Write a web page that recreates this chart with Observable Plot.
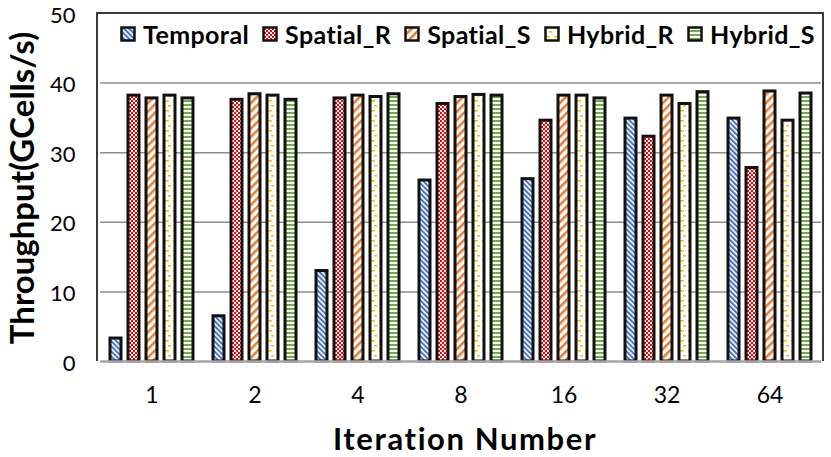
<!DOCTYPE html>
<html>
<head>
<meta charset="utf-8">
<script src="https://cdn.jsdelivr.net/npm/d3@7"></script>
<script src="https://cdn.jsdelivr.net/npm/@observablehq/plot@0.6"></script>
<style>
  html, body { margin: 0; padding: 0; background: #fff; }
  #wrap { position: relative; width: 831px; height: 457px; font-family: Lato, "Open Sans", sans-serif; }
  #legend { position: absolute; left: 120px; top: 19px; display: flex; align-items: center; font-weight: 700; font-size: 25px; letter-spacing: 0.4px; color: #000; }
  #legend .item { display: flex; align-items: center; margin-right: 13px; }
  #legend svg { margin-right: 7px; }
  #ytitle { position: absolute; left: -159px; top: 171px; width: 360px; text-align: center; font-weight: 700; font-size: 33px; line-height: 34px; transform: rotate(-90deg); transform-origin: center; white-space: nowrap; }
  #xtitle { position: absolute; left: 265px; top: 422px; width: 400px; text-align: center; font-weight: 700; font-size: 31px; letter-spacing: 1.6px; line-height: 32px; white-space: nowrap; }
</style>
</head>
<body>
<div id="wrap"></div>
<script>
const iterations = ["1", "2", "4", "8", "16", "32", "64"];
const seriesNames = ["Temporal", "Spatial_R", "Spatial_S", "Hybrid_R", "Hybrid_S"];
const temporal  = [3.3, 6.5, 13.0, 26.0, 26.2, 34.9, 34.9];
const spatialR  = [38.2, 37.6, 37.8, 37.0, 34.6, 32.3, 27.8];
const spatialS  = [37.8, 38.4, 38.2, 38.0, 38.2, 38.2, 38.8];
const hybridR   = [38.2, 38.2, 38.0, 38.3, 38.2, 37.0, 34.6];
const hybridS   = [37.8, 37.6, 38.4, 38.2, 37.8, 38.7, 38.5];
const yTicks = [0, 10, 20, 30, 40, 50];
const patternIds = ["pTemporal", "pSpatialR", "pSpatialS", "pHybridR", "pHybridS"];

const seriesValues = [temporal, spatialR, spatialS, hybridR, hybridS];
const rows = iterations.flatMap((it, i) =>
  seriesNames.map((s, j) => ({iteration: it, series: s, value: seriesValues[j][i]})));

const mL = 97, mR = 8, mT = 13, mB = 96, W = 831, H = 457;

const plot = Plot.plot({
  width: W, height: H,
  marginLeft: mL, marginRight: mR, marginTop: mT, marginBottom: mB,
  style: {fontFamily: "Lato, 'Open Sans', sans-serif", fontSize: "23px", color: "#000", background: "white", overflow: "visible"},
  fx: {domain: iterations, padding: 0, label: null, tickSize: 0, tickPadding: 25},
  x: {domain: seriesNames, paddingInner: 0.41, paddingOuter: 0.5, axis: null},
  y: {domain: [0, 50], label: null},
  color: {domain: seriesNames, range: patternIds.map(id => `url(#${id})`)},
  marks: [
    Plot.gridY(yTicks.filter(t => t > 0 && t < 50), {stroke: "#8c8c8c", strokeOpacity: 1, strokeWidth: 1.5}),
    Plot.axisY(yTicks, {tickSize: 0, tickPadding: 25, fontSize: 22, dy: 2, label: null}),
    Plot.barY(rows, {fx: "iteration", x: "series", y: "value", fill: "series", stroke: "#111", strokeWidth: 3}),
    Plot.ruleY([0], {stroke: "#a6a6a6", strokeWidth: 2.5})
  ]
});

const wrap = document.getElementById("wrap");
wrap.appendChild(plot);

// patterns
const svg = d3.select(plot);
const defs = svg.insert("defs", ":first-child");
function pat(id, w, h, transform) {
  const p = defs.append("pattern").attr("id", id).attr("patternUnits", "userSpaceOnUse")
    .attr("width", w).attr("height", h);
  if (transform) p.attr("patternTransform", transform);
  p.append("rect").attr("width", w).attr("height", h).attr("fill", "white");
  return p;
}
let p;
p = pat("pTemporal", 3.6, 3.6, "rotate(-45)");
p.append("rect").attr("width", 2).attr("height", 3.6).attr("fill", "#4472C4");
p = pat("pSpatialR", 4, 4);
p.append("rect").attr("width", 2).attr("height", 2).attr("fill", "#FF0000");
p.append("rect").attr("x", 2).attr("y", 2).attr("width", 2).attr("height", 2).attr("fill", "#FF0000");
p = pat("pSpatialS", 6, 6, "rotate(45)");
p.append("rect").attr("width", 2.6).attr("height", 6).attr("fill", "#ED7D31");
p = pat("pHybridR", 8, 10);
p.append("rect").attr("x", 2).attr("y", 0).attr("width", 4).attr("height", 1.6).attr("fill", "#FFC000");
p.append("rect").attr("x", 5).attr("y", 5).attr("width", 4).attr("height", 1.6).attr("fill", "#FFC000");
p = pat("pHybridS", 4, 4);
p.append("rect").attr("width", 4).attr("height", 2).attr("fill", "#70AD47");

// frame (left, top, right)
svg.append("path")
  .attr("d", `M${mL},${H - mB}V${mT}H${W - mR}V${H - mB}`)
  .attr("fill", "none").attr("stroke", "#3a3a3a").attr("stroke-width", 2);

// legend
const legend = d3.select(wrap).append("div").attr("id", "legend");
seriesNames.forEach((s, j) => {
  const item = legend.append("div").attr("class", "item");
  const sw = item.append("svg").attr("width", 16).attr("height", 16);
  sw.append("rect").attr("x", 1.5).attr("y", 1.5).attr("width", 13).attr("height", 13)
    .attr("fill", `url(#${patternIds[j]})`).attr("stroke", "#111").attr("stroke-width", 2.5);
  item.append("span").text(s);
});

d3.select(wrap).append("div").attr("id", "ytitle").text("Throughput(GCells/s)");
d3.select(wrap).append("div").attr("id", "xtitle").text("Iteration Number");
</script>
</body>
</html>
